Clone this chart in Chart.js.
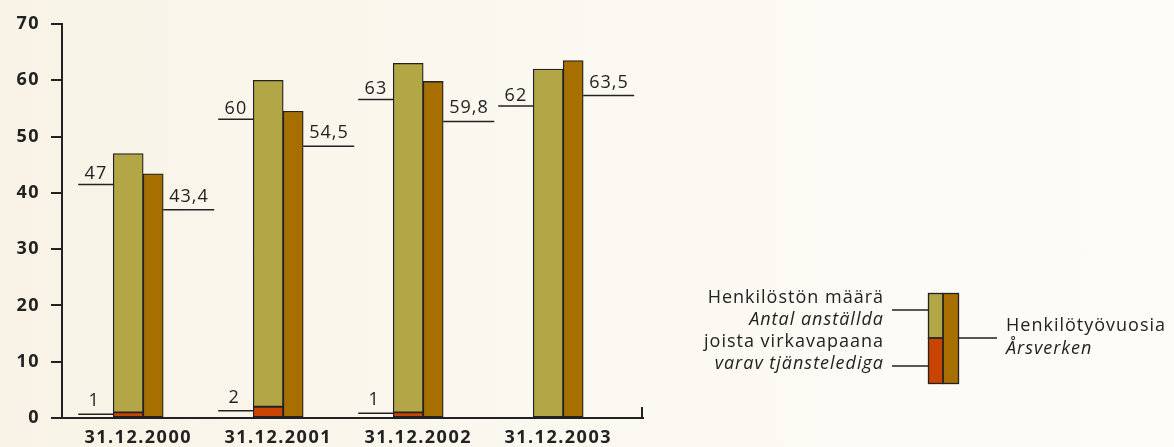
<!DOCTYPE html>
<html>
<head>
<meta charset="utf-8">
<script src="https://cdn.jsdelivr.net/npm/chart.js@4.4.0/dist/chart.umd.min.js"></script>
<style>
  html, body { margin: 0; padding: 0; }
  body {
    width: 1174px; height: 447px; overflow: hidden;
    background: linear-gradient(90deg, #f8f3e6 0%, #fbf8f0 45%, #fdfcf8 100%);
  }
  #wrap { position: relative; width: 1174px; height: 447px; }
</style>
</head>
<body>
<div id="wrap"><canvas id="chart"></canvas></div>
<script>
// data
const categories = ['31.12.2000', '31.12.2001', '31.12.2002', '31.12.2003'];
const staffTotal = [47, 60, 63, 62];          // Henkilöstön määrä
const staffOnLeave = [1, 2, 1, null];         // joista virkavapaana
const personYears = [43.4, 54.5, 59.8, 63.5]; // Henkilötyövuosia
const yMax = 70;
const yStep = 10;

// where the hand-placed leader lines sit, px below the bar top
const totalDrop = [31, 39, 36, 37];
const yearsDrop = [36, 35, 40, 35];
const leaveDrop = [2, 4, 1, 0];

const olive = '#b2a646';
const brown = '#a66f00';
const red = '#c84400';
const ink = '#222222';
const FONT = '"Open Sans", sans-serif';

const fmt = v => String(v).replace('.', ',');

const staffRest = staffTotal.map((t, i) => t - (staffOnLeave[i] || 0));

const barStyle = {
  borderColor: ink,
  borderWidth: 1.3,
  borderSkipped: false,
};

const annotate = {
  id: 'annotate',
  beforeDraw(chart) {
    chart.ctx.letterSpacing = '1.5px';
  },
  afterDatasetsDraw(chart) {
    const { ctx, scales: { y } } = chart;
    const staffMeta = chart.getDatasetMeta(1);
    const yearsMeta = chart.getDatasetMeta(2);
    ctx.save();
    ctx.strokeStyle = ink;
    ctx.fillStyle = ink;
    ctx.lineWidth = 1.5;
    ctx.font = '18px ' + FONT;
    ctx.letterSpacing = '1px';
    ctx.textBaseline = 'alphabetic';

    const hline = (x1, x2, yy) => {
      ctx.beginPath();
      ctx.moveTo(x1, yy);
      ctx.lineTo(x2, yy);
      ctx.stroke();
    };

    categories.forEach((c, i) => {
      const sb = staffMeta.data[i];
      const left = sb.x - sb.width / 2;
      // total staff
      let ly = y.getPixelForValue(staffTotal[i]) + totalDrop[i];
      hline(left - 35, left, ly);
      ctx.textAlign = 'right';
      ctx.fillText(fmt(staffTotal[i]), left - 6, ly - 5);

      // person-years
      const yb = yearsMeta.data[i];
      const right = yb.x + yb.width / 2;
      ly = y.getPixelForValue(personYears[i]) + yearsDrop[i];
      hline(right, right + 51, ly);
      ctx.textAlign = 'left';
      ctx.fillText(fmt(personYears[i]), right + 6, ly - 8);

      // on leave
      if (staffOnLeave[i] != null) {
        ly = y.getPixelForValue(staffOnLeave[i]) + leaveDrop[i];
        hline(left - 35, left, ly);
        ctx.textAlign = 'center';
        ctx.fillText(fmt(staffOnLeave[i]), left - 19, ly - 8);
      }
    });

    // end tick of the x axis
    const xa = chart.scales.x;
    ctx.lineWidth = 2;
    ctx.beginPath();
    ctx.moveTo(xa.right - 1, xa.top + 1);
    ctx.lineTo(xa.right - 1, xa.top - 11);
    ctx.stroke();
    ctx.restore();
  },
  afterDraw(chart) {
    const ctx = chart.ctx;
    ctx.save();
    ctx.letterSpacing = '1px';
    // legend swatches
    ctx.fillStyle = olive;
    ctx.fillRect(928, 293, 15, 45);
    ctx.fillStyle = red;
    ctx.fillRect(928, 338, 15, 46);
    ctx.fillStyle = brown;
    ctx.fillRect(943, 293, 16, 91);
    ctx.strokeStyle = ink;
    ctx.lineWidth = 1.3;
    ctx.strokeRect(928.5, 293.5, 14.5, 44.5);
    ctx.strokeRect(928.5, 338, 14.5, 45.5);
    ctx.strokeRect(943, 293.5, 15.5, 90);

    ctx.lineWidth = 1.5;
    ctx.beginPath();
    ctx.moveTo(892, 310); ctx.lineTo(928, 310);
    ctx.moveTo(892, 366); ctx.lineTo(928, 366);
    ctx.moveTo(959, 338); ctx.lineTo(997, 338);
    ctx.stroke();

    ctx.fillStyle = ink;
    ctx.textBaseline = 'alphabetic';
    ctx.textAlign = 'right';
    ctx.font = '18px ' + FONT;
    ctx.fillText('Henkilöstön määrä', 884, 303);
    ctx.fillText('joista virkavapaana', 884, 347);
    ctx.font = 'italic 18px ' + FONT;
    ctx.fillText('Antal anställda', 884, 325);
    ctx.fillText('varav tjänstelediga', 884, 369);

    ctx.textAlign = 'left';
    ctx.font = '18px ' + FONT;
    ctx.fillText('Henkilötyövuosia', 1006, 331);
    ctx.font = 'italic 18px ' + FONT;
    ctx.fillText('Årsverken', 1006, 354);
    ctx.restore();
  }
};

new Chart(document.getElementById('chart'), {
  type: 'bar',
  data: {
    datasets: [
      {
        label: 'joista virkavapaana',
        data: staffOnLeave.map((v, i) => ({ x: i, y: v })),
        backgroundColor: red,
        stack: 'staff',
        barThickness: 30,
        ...barStyle,
      },
      {
        label: 'Henkilöstön määrä',
        data: staffRest.map((v, i) => ({ x: i, y: v })),
        backgroundColor: olive,
        stack: 'staff',
        barThickness: 30,
        ...barStyle,
      },
      {
        label: 'Henkilötyövuosia',
        data: personYears.map((v, i) => ({ x: i, y: v })),
        backgroundColor: brown,
        stack: 'years',
        barThickness: 20,
        ...barStyle,
      },
    ],
  },
  options: {
    responsive: true,
    maintainAspectRatio: false,
    animation: false,
    layout: { padding: { top: 24, right: 531, left: 0, bottom: 0 } },
    plugins: {
      legend: { display: false },
      tooltip: { enabled: false },
    },
    scales: {
      x: {
        type: 'linear',
        stacked: true,
        offset: false,
        min: -0.58,
        max: 3.57,
        afterFit: s => { s.height = 29; },
        afterBuildTicks: s => { s.ticks = categories.map((c, i) => ({ value: i })); },
        grid: { display: false, drawTicks: false, offset: false },
        border: { display: true, color: ink, width: 2 },
        ticks: {
          autoSkip: false,
          maxRotation: 0,
          padding: 9,
          labelOffset: -5,
          color: ink,
          font: { family: FONT, size: 18, weight: 'bold' },
          callback: v => categories[v] ?? '',
        },
      },
      y: {
        stacked: true,
        min: 0,
        max: yMax,
        afterFit: s => { s.width = 62; },
        grid: {
          drawOnChartArea: false,
          drawTicks: true,
          tickLength: 11,
          color: ink,
          lineWidth: 2,
        },
        border: { display: true, color: ink, width: 2 },
        ticks: {
          stepSize: yStep,
          padding: 11,
          color: ink,
          font: { family: FONT, size: 18, weight: 'bold' },
        },
      },
    },
  },
  plugins: [annotate],
});
</script>
</body>
</html>
